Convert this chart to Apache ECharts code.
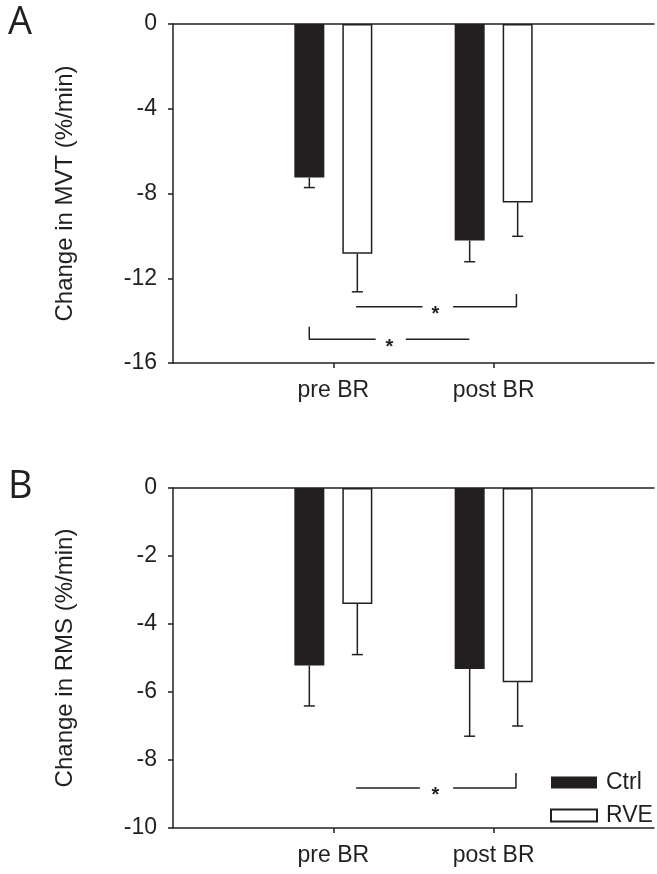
<!DOCTYPE html>
<html>
<head>
<meta charset="utf-8">
<script src="https://cdn.jsdelivr.net/npm/echarts@6/dist/echarts.min.js"></script>
<style>
html,body{margin:0;padding:0;background:#fff;}
#c{width:657px;height:874px;}
</style>
</head>
<body>
<div id="c"></div>
<script>
// ---- data ----
const categories = ['', 'pre BR', 'post BR', ''];
const seriesNames = ['Ctrl', 'RVE'];
// Panel A: Change in MVT (%/min)
const mvtCtrl = [-7.25, -10.22];
const mvtCtrlErr = [0.47, 1.0];
const mvtRVE = [-10.84, -8.42];
const mvtRVEErr = [1.8, 1.6];
// Panel B: Change in RMS (%/min)
const rmsCtrl = [-5.22, -5.32];
const rmsCtrlErr = [1.19, 1.98];
const rmsRVE = [-3.41, -5.71];
const rmsRVEErr = [1.49, 1.29];
// significance brackets (x in category-position units, y in data units)
const sigA_lines = [
  [[1.142, -13.34], [1.556, -13.34]],
  [[1.747, -13.34], [2.142, -13.34], [2.142, -12.74]],
  [[0.850, -14.29], [0.850, -14.88], [1.264, -14.88]],
  [[1.452, -14.88], [1.848, -14.88]]
];
const sigA_stars = [[1.636, -13.34], [1.350, -14.88]];
const sigB_lines = [
  [[1.142, -8.82], [1.540, -8.82]],
  [[1.747, -8.82], [2.139, -8.82], [2.139, -8.38]]
];
const sigB_stars = [[1.636, -8.82]];
const yA = {min: -16, max: 0, interval: 4};
const yB = {min: -10, max: 0, interval: 2};

// ---- style ----
const INK = '#231f20';
const FONT = "'Liberation Sans', Arial, sans-serif";
const BAR_W = 30, BAR_GAP_PX = 18;
const OFFSET = (BAR_W + BAR_GAP_PX) / 2;

function pad(arr){ return [null].concat(arr).concat([null]); }

function errData(vals, errs){
  return vals.map((v, i) => [i + 1, v, errs[i]]);
}

function errSeries(xi, yi, vals, errs, sign){
  return {
    type: 'custom', xAxisIndex: xi, yAxisIndex: yi, z: 5,
    data: errData(vals, errs),
    renderItem: function(params, api){
      const c = api.value(0), v = api.value(1), e = api.value(2);
      const p0 = api.coord([c, v]);
      const p1 = api.coord([c, v - e]);
      const x = p0[0] + sign * OFFSET;
      return {
        type: 'group',
        children: [
          {type: 'line', shape: {x1: x, y1: p0[1], x2: x, y2: p1[1]}, style: {stroke: INK, lineWidth: 1.5}},
          {type: 'line', shape: {x1: x - 5.5, y1: p1[1], x2: x + 5.5, y2: p1[1]}, style: {stroke: INK, lineWidth: 1.5}}
        ]
      };
    }
  };
}

function bracketSeries(xi, yi, lines){
  const data = [];
  lines.forEach((seg, k) => {
    if (k > 0) data.push([null, null]);
    seg.forEach(p => data.push(p));
  });
  return {
    type: 'line', xAxisIndex: xi, yAxisIndex: yi, data: data,
    symbol: 'none', connectNulls: false, silent: true, z: 6,
    lineStyle: {color: INK, width: 1.5}
  };
}
function starSeries(xi, yi, stars){
  return {
    type: 'custom', xAxisIndex: xi, yAxisIndex: yi, data: stars, silent: true, z: 6,
    renderItem: function(params, api){
      const p = api.coord([api.value(0), api.value(1)]);
      return {
        type: 'text',
        style: {text: '*', x: p[0], y: p[1] + 8, align: 'center', verticalAlign: 'middle',
                fill: INK, font: "bold 20px 'Liberation Sans', Arial, sans-serif"}
      };
    }
  };
}

function catAxis(gi){
  return {
    type: 'category', gridIndex: gi, data: categories, boundaryGap: false,
    position: 'bottom',
    axisLine: {onZero: false, lineStyle: {color: INK, width: 1.5}},
    axisTick: {inside: false, length: 5, lineStyle: {color: INK, width: 1.5},
               interval: function(i, v){ return v !== ''; }},
    axisLabel: {interval: 0, color: INK, fontFamily: FONT, fontSize: 23, margin: 16},
    splitLine: {show: false}
  };
}
function topAxis(gi){
  return {
    type: 'category', gridIndex: gi, data: categories, boundaryGap: false,
    position: 'top',
    axisLine: {lineStyle: {color: INK, width: 1.5}},
    axisTick: {show: false}, axisLabel: {show: false}, splitLine: {show: false}
  };
}
function hiddenX(gi){
  return {type: 'value', gridIndex: gi, min: 0, max: 3, show: false, position: 'bottom'};
}
function valAxis(gi, cfg, name){
  return {
    type: 'value', gridIndex: gi, min: cfg.min, max: cfg.max, interval: cfg.interval,
    name: name, nameLocation: 'middle', nameGap: 96, nameRotate: 90,
    nameTextStyle: {color: INK, fontFamily: FONT, fontSize: 24},
    axisLine: {show: true, onZero: false, lineStyle: {color: INK, width: 1.5}},
    axisTick: {show: true, inside: false, length: 5, lineStyle: {color: INK, width: 1.5}},
    axisLabel: {color: INK, fontFamily: FONT, fontSize: 23, margin: 16},
    splitLine: {show: false}
  };
}

function barSeries(xi, yi, name, vals, filled){
  return {
    type: 'bar', name: name, xAxisIndex: xi, yAxisIndex: yi,
    data: pad(vals), barWidth: BAR_W, barGap: (BAR_GAP_PX / BAR_W * 100) + '%',
    itemStyle: filled ? {color: INK, borderColor: INK, borderWidth: 0}
                      : {color: '#ffffff', borderColor: INK, borderWidth: 1.5},
    z: 3
  };
}

const chart = echarts.init(document.getElementById('c'), null, {renderer: 'canvas'});
chart.setOption({
  animation: false,
  backgroundColor: '#ffffff',
  grid: [
    {left: 173, top: 24, width: 486, height: 339},
    {left: 173, top: 488, width: 486, height: 340}
  ],
  xAxis: [catAxis(0), topAxis(0), hiddenX(0), catAxis(1), topAxis(1), hiddenX(1)],
  yAxis: [valAxis(0, yA, 'Change in MVT (%/min)'), valAxis(1, yB, 'Change in RMS (%/min)')],
  legend: {
    data: seriesNames, orient: 'vertical', left: 550, top: 771, padding: 0,
    icon: 'rect', itemWidth: 46, itemHeight: 12, itemGap: 10,
    textStyle: {color: INK, fontFamily: FONT, fontSize: 23, lineHeight: 16, padding: [0, 0, 0, 4]},
    selectedMode: false
  },
  graphic: [
    {type: 'text', left: 8, top: 4, style: {text: 'A', font: "38px 'Open Sans', sans-serif", fill: INK}},
    {type: 'text', left: 8, top: 468, style: {text: 'B', font: "38px 'Open Sans', sans-serif", fill: INK}}
  ],
  series: [
    barSeries(0, 0, 'Ctrl', mvtCtrl, true),
    barSeries(0, 0, 'RVE', mvtRVE, false),
    errSeries(0, 0, mvtCtrl, mvtCtrlErr, -1),
    errSeries(0, 0, mvtRVE, mvtRVEErr, 1),
    bracketSeries(2, 0, sigA_lines),
    starSeries(2, 0, sigA_stars),
    barSeries(3, 1, 'Ctrl', rmsCtrl, true),
    barSeries(3, 1, 'RVE', rmsRVE, false),
    errSeries(3, 1, rmsCtrl, rmsCtrlErr, -1),
    errSeries(3, 1, rmsRVE, rmsRVEErr, 1),
    bracketSeries(5, 1, sigB_lines),
    starSeries(5, 1, sigB_stars)
  ]
});
</script>
</body>
</html>
